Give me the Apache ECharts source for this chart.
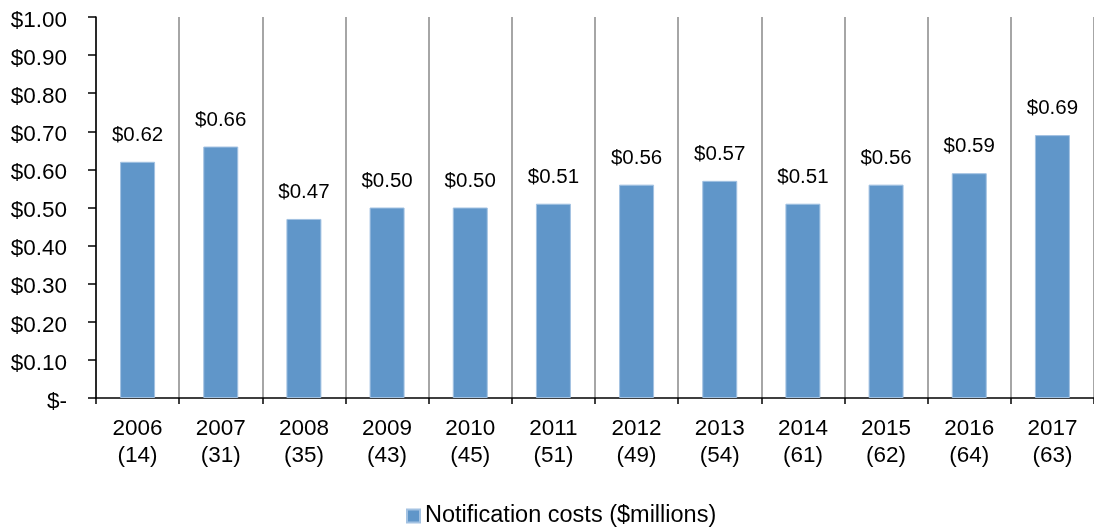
<!DOCTYPE html>
<html>
<head>
<meta charset="utf-8">
<script src="https://cdn.jsdelivr.net/npm/echarts@6/dist/echarts.min.js"></script>
<style>
  html, body { margin: 0; padding: 0; background: #fff; }
  #chart { width: 1094px; height: 527px; }
</style>
</head>
<body>
<div id="chart"></div>
<script>
var years = ['2006', '2007', '2008', '2009', '2010', '2011', '2012', '2013', '2014', '2015', '2016', '2017'];
var counts = [14, 31, 35, 43, 45, 51, 49, 54, 61, 62, 64, 63];
var costs = [0.62, 0.66, 0.47, 0.50, 0.50, 0.51, 0.56, 0.57, 0.51, 0.56, 0.59, 0.69];
var seriesName = 'Notification costs ($millions)';

var categories = years.map(function (y, i) {
    return y + '\n(' + counts[i] + ')';
});

var font = '"Liberation Sans", Arial, sans-serif';

var myChart = echarts.init(document.getElementById('chart'));
var option = {
    animation: false,
    textStyle: { fontFamily: font },
    grid: {
        left: 96,
        right: -7,
        top: 17,
        bottom: 129,
        containLabel: false
    },
    legend: {
        top: 504,
        left: 406,
        padding: 0,
        icon: 'rect',
        itemWidth: 13,
        itemHeight: 13,
        textStyle: { fontSize: 23.5, color: '#000', fontFamily: font },
        data: [seriesName]
    },
    xAxis: {
        type: 'category',
        data: categories,
        axisLine: { lineStyle: { color: '#000', width: 1.5 } },
        axisTick: { show: true, length: 6, lineStyle: { color: '#000', width: 1.5 } },
        axisLabel: {
            color: '#000',
            fontSize: 22.5,
            lineHeight: 27,
            margin: 17,
            fontFamily: font
        },
        splitLine: { show: true, lineStyle: { color: '#a6a6a6', width: 2 } }
    },
    yAxis: {
        type: 'value',
        min: 0,
        max: 1,
        interval: 0.1,
        axisLine: { show: true, lineStyle: { color: '#000', width: 1.5 } },
        axisTick: { show: true, length: 8, lineStyle: { color: '#000', width: 1.5 } },
        axisLabel: {
            color: '#000',
            fontSize: 22.5,
            margin: 29,
            verticalAlign: 'top',
            lineHeight: 7,
            fontFamily: font,
            formatter: function (v) {
                return v === 0 ? '$-' : '$' + v.toFixed(2);
            }
        },
        splitLine: { show: false }
    },
    series: [{
        name: seriesName,
        type: 'bar',
        data: costs,
        barWidth: 35,
        itemStyle: {
            color: '#6096c9',
            borderColor: '#a3c2e2',
            borderWidth: 1
        },
        label: {
            show: true,
            position: 'top',
            distance: 16,
            color: '#000',
            fontSize: 20.5,
            fontFamily: font,
            formatter: function (p) {
                return '$' + p.value.toFixed(2);
            }
        }
    }]
};
myChart.setOption(option);

window.addEventListener('resize', function () {
    myChart.resize();
});
</script>
</body>
</html>
